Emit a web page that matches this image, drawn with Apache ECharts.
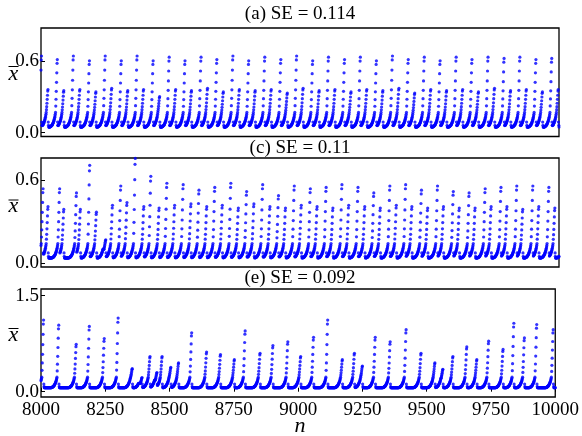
<!DOCTYPE html>
<html><head><meta charset="utf-8">
<script src="https://cdn.jsdelivr.net/npm/echarts@6/dist/echarts.min.js"></script>
<style>html,body{margin:0;padding:0;background:#fff}#c{width:582px;height:436px}</style>
</head><body><div id="c"></div>
<script>
// ---- data ----
const xTicks = [8000, 8250, 8500, 8750, 9000, 9250, 9500, 9750, 10000];
const titles = ['(a) SE = 0.114', '(c) SE = 0.11', '(e) SE = 0.092'];
const yTicksA = [0.0, 0.6];
const yTicksC = [0.0, 0.6];
const yTicksE = [0.0, 1.5];

// values just after a burst (crash hook)
const POST = [0.088, 0.060];
// slow rise before a burst, indexed by steps remaining before the burst column (0 = nearest)
const PRE = [0.168,0.152,0.139,0.128,0.118,0.109,0.101,0.094,0.088,0.082,
 0.077,0.072,0.068,0.064,0.061,0.058,0.056,0.054,0.052,0.050,
 0.049,0.048,0.047,0.047,0.046,0.046,0.046,0.046];
// fraction of the way to the peak for the last steps of each burst
const COL = [0.12, 0.25, 0.40, 0.57, 0.75, 0.93, 1.0];

// burst peaks: positions n and heights
const peakNA = [7966,8002,8027,8063,8088,8125,8150,8187,8212,8248,8273,8310,8335,8371,8396,8433,8458,8495,8520,8556,8581,8618,8643,8679,8704,8741,8766,8802,8827,8864,8889,8926,8951,8987,9012,9049,9074,9110,9135,9172,9197,9233,9258,9295,9320,9357,9382,9418,9443,9480,9505,9541,9566,9603,9628,9664,9689,9726,9751,9788,9813,9849,9874,9911,9936,9972,9997,10034];
const peakVA = [0.36,
 0.64,0.36, 0.61,0.35, 0.64,0.36, 0.60,0.34, 0.64,0.37, 0.60,0.35, 0.64,0.36, 0.60,0.30, 0.63,0.36, 0.60,0.35, 0.63,0.37,
 0.61,0.34, 0.64,0.36, 0.60,0.35, 0.63,0.36, 0.61,0.33, 0.64,0.37, 0.60,0.35, 0.63,0.36, 0.61,0.34, 0.63,0.36, 0.60,0.35,
 0.64,0.37, 0.61,0.33, 0.63,0.36, 0.60,0.35, 0.63,0.36, 0.61,0.34, 0.63,0.37, 0.62,0.35, 0.63,0.36, 0.61,0.34, 0.62,0.36,
 0.62];
const peakNC = [7978,8008,8027,8072,8088,8137,8152,8188,8214,8250,8276,8308,8332,8364,8397,8424,8456,8486,8516,8549,8579,8610,8640,8671,8700,8733,8762,8794,8822,8856,8884,8917,8944,8978,9005,9040,9066,9101,9127,9162,9188,9224,9250,9285,9310,9347,9372,9408,9432,9469,9493,9531,9554,9592,9615,9653,9676,9715,9738,9776,9799,9837,9860,9899,9922,9961,9984,10022];
const peakVC = [0.40,0.54,0.41,0.54,0.39,0.51,0.39,0.71,0.37,0.17,0.42,0.56,0.44,0.76,0.41,0.63,0.40,0.58,0.42,0.57,0.43,0.53,0.41,0.55,0.42,0.58,0.40,0.52,0.43,0.57,0.41,0.49,0.40,0.56,0.42,0.54,0.41,0.55,0.40,0.57,0.42,0.55,0.41,0.51,0.40,0.56,0.42,0.57,0.41,0.53,0.40,0.56,0.41,0.52,0.40,0.51,0.40,0.54,0.41,0.55,0.41,0.56,0.39,0.56,0.41,0.55,0.40,0.55];
const peakNE = [7952,8010,8069,8137,8188,8246,8300,8355,8393,8424,8451,8471,8505,8535,8586,8644,8698,8752,8794,8852,8902,8960,9010,9060,9115,9172,9219,9250,9300,9358,9420,9478,9532,9563,9602,9656,9695,9741,9797,9839,9880,9928,9992,10050];
const peakVE = [0.8,1.12,1.04,0.74,1.02,0.83,1.15,0.36,0.22,0.55,0.30,0.55,0.38,0.45,0.92,0.62,0.58,0.50,0.95,0.60,0.72,0.78,0.55,0.85,1.12,0.50,0.60,0.40,0.85,0.78,0.97,0.60,0.45,0.35,0.55,0.70,0.50,0.79,0.66,1.07,0.84,1.05,0.97,0.9];
const baseA = 1.0, baseC = 0.85, baseE = 1.35;

function build(peakN, peakV, base) {
  const pts = [];
  for (let i = 0; i < peakN.length - 1; i++) {
    const p0 = peakN[i], p1 = peakN[i + 1], P = peakV[i + 1];
    const L = p1 - p0;
    const K = Math.min(COL.length, Math.floor(L / 2));
    const jLen = L - K;
    const v0 = Math.min(PRE[0] * base, P * 0.6);
    for (let t = 1; t <= L; t++) {
      const n = p0 + t;
      let v;
      if (t <= jLen) {
        const s = jLen - t;
        v = Math.min(PRE[Math.min(s, PRE.length - 1)] * base, v0);
        if (t <= POST.length) v = Math.max(v, POST[t - 1] * base);
      } else v = v0 + (P - v0) * COL[COL.length - K + (t - jLen - 1)];
      if (n >= 8000 && n <= 10000) pts.push([n, v]);
    }
  }
  return pts;
}

const FONT = 'Liberation Serif';
const grids = [
  {left: 41, top: 28, width: 518, height: 108.5},
  {left: 41, top: 158, width: 518, height: 109},
  {left: 41, top: 289, width: 518, height: 108}
];
const yRanges = [[-0.033, 0.874], [-0.027, 0.763], [-0.083, 1.605]];
const yTicks = [yTicksA, yTicksC, yTicksE];
const datas = [build(peakNA, peakVA, baseA), build(peakNC, peakVC, baseC), build(peakNE, peakVE, baseE)];
const titleY = [5, 139, 269];

const chart = echarts.init(document.getElementById('c'), null, {renderer: 'canvas'});
chart.setOption({
  animation: false,
  backgroundColor: '#fff',
  title: titles.map((t, i) => ({
    text: t, left: 300, top: titleY[i], textAlign: 'center', padding: 0,
    textStyle: {fontFamily: FONT, fontSize: 19, fontWeight: 'normal', color: '#000'}
  })),
  grid: grids.map(g => Object.assign({show: true, borderColor: '#000', borderWidth: 1.3, backgroundColor: 'transparent'}, g)),
  xAxis: grids.map((g, i) => ({
    type: 'value', gridIndex: i, min: 8000, max: 10000, interval: 250,
    axisLine: {show: false}, splitLine: {show: false},
    axisTick: {show: i === 2, inside: true, length: 4, lineStyle: {color: '#000', width: 1}},
    axisLabel: {show: i === 2, margin: 4, fontFamily: FONT, fontSize: 19, color: '#000',
      customValues: xTicks, formatter: v => String(v)}
  })),
  yAxis: grids.map((g, i) => ({
    type: 'value', gridIndex: i, min: yRanges[i][0], max: yRanges[i][1],
    axisLine: {show: false}, splitLine: {show: false},
    axisTick: {show: true, inside: true, length: 4, customValues: yTicks[i], lineStyle: {color: '#000', width: 1}},
    axisLabel: {show: true, margin: 2, fontFamily: FONT, fontSize: 19, color: '#000',
      customValues: yTicks[i], formatter: v => v.toFixed(1)}
  })),
  series: datas.map((d, i) => ({
    type: 'scatter', xAxisIndex: i, yAxisIndex: i, data: d, symbol: 'circle', symbolSize: 3.2,
    itemStyle: {color: '#0000ff'}, silent: true
  })),
  graphic: [
    {type: 'text', x: 13.5, y: 74, style: {text: 'x', font: 'italic 22px "Liberation Serif"', fill: '#000', textAlign: 'center', textVerticalAlign: 'middle'}},
    {type: 'line', shape: {x1: 8.5, y1: 66.5, x2: 18.5, y2: 66.5}, style: {stroke: '#000', lineWidth: 1}},
    {type: 'text', x: 13.5, y: 206, style: {text: 'x', font: 'italic 22px "Liberation Serif"', fill: '#000', textAlign: 'center', textVerticalAlign: 'middle'}},
    {type: 'line', shape: {x1: 8.5, y1: 200, x2: 18.5, y2: 200}, style: {stroke: '#000', lineWidth: 1}},
    {type: 'text', x: 13.5, y: 335, style: {text: 'x', font: 'italic 22px "Liberation Serif"', fill: '#000', textAlign: 'center', textVerticalAlign: 'middle'}},
    {type: 'line', shape: {x1: 8.5, y1: 328.5, x2: 18.5, y2: 328.5}, style: {stroke: '#000', lineWidth: 1}},
    {type: 'text', x: 300, y: 426, style: {text: 'n', font: 'italic 22px "Liberation Serif"', fill: '#000', textAlign: 'center', textVerticalAlign: 'middle'}}
  ]
});
</script></body></html>
